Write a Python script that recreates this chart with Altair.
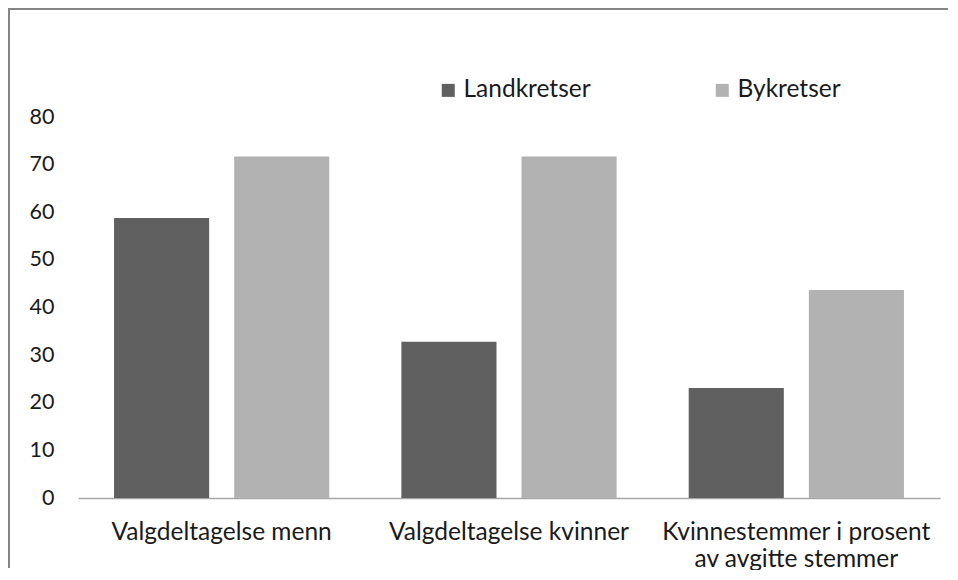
import altair as alt
import pandas as pd

categories = ["Valgdeltagelse menn", "Valgdeltagelse kvinner", "Kvinnestemmer i prosent av avgitte stemmer"]
series = ["Landkretser", "Bykretser"]
landkretser = [58.8, 32.8, 23.1]
bykretser = [71.7, 71.7, 43.7]
y_ticks = [0, 10, 20, 30, 40, 50, 60, 70, 80]
colors = ["#606060", "#b2b2b2"]

rows = []
for i, c in enumerate(categories):
    rows.append({"kategori": c, "serie": series[0], "verdi": landkretser[i]})
    rows.append({"kategori": c, "serie": series[1], "verdi": bykretser[i]})
df = pd.DataFrame(rows)

FONT = "Lato"
FS = 24.5
FS_Y = 21.5
W, H = 862, 381

bars = alt.Chart(df).mark_bar().encode(
    x=alt.X("kategori:N", sort=categories, title=None,
            scale=alt.Scale(paddingInner=0, paddingOuter=0),
            axis=alt.Axis(labelAngle=0, ticks=False, labelPadding=22,
                          labelFont=FONT, labelFontSize=FS, labelColor="#1a1a1a",
                          labelLineHeight=27, labelLimit=400,
                          domainColor="#a6a6a6", domainWidth=1.5,
                          labelExpr="datum.label == 'Kvinnestemmer i prosent av avgitte stemmer' ? ['Kvinnestemmer i prosent', 'av avgitte stemmer'] : datum.label")),
    xOffset=alt.XOffset("serie:N", sort=series,
                        scale=alt.Scale(paddingInner=0.2083, paddingOuter=0.3)),
    y=alt.Y("verdi:Q", title=None,
            scale=alt.Scale(domain=[0, 80], nice=False),
            axis=alt.Axis(values=y_ticks, grid=False, domain=False, ticks=False,
                          labelPadding=24, labelFont=FONT, labelFontSize=FS_Y,
                          labelColor="#1a1a1a")),
    color=alt.Color("serie:N", sort=series,
                    scale=alt.Scale(domain=series, range=colors),
                    legend=alt.Legend(title=None, orient="none", direction="horizontal",
                                      legendX=358, legendY=-39, padding=0,
                                      symbolType="square", symbolSize=169,
                                      symbolStrokeWidth=0, labelOffset=3,
                                      columnPadding=119,
                                      labelFont=FONT, labelFontSize=FS,
                                      labelColor="#1a1a1a")),
)

frame = pd.DataFrame({"a": [0]})
left_bar = alt.Chart(frame).mark_rect(color="#868686").encode(
    x=alt.value(-70), x2=alt.value(-68), y=alt.value(-109), y2=alt.value(H + 70))
top_bar = alt.Chart(frame).mark_rect(color="#868686").encode(
    x=alt.value(-70), x2=alt.value(W + 8), y=alt.value(-109), y2=alt.value(-107))

chart = alt.layer(left_bar, top_bar, bars).properties(
    width=W, height=H,
    autosize=alt.AutoSizeParams(type="none"),
    padding={"left": 70, "top": 109, "right": 10, "bottom": 72},
).configure_view(strokeWidth=0)

chart.save("out.html", embed_options={"renderer": "svg", "actions": False})
